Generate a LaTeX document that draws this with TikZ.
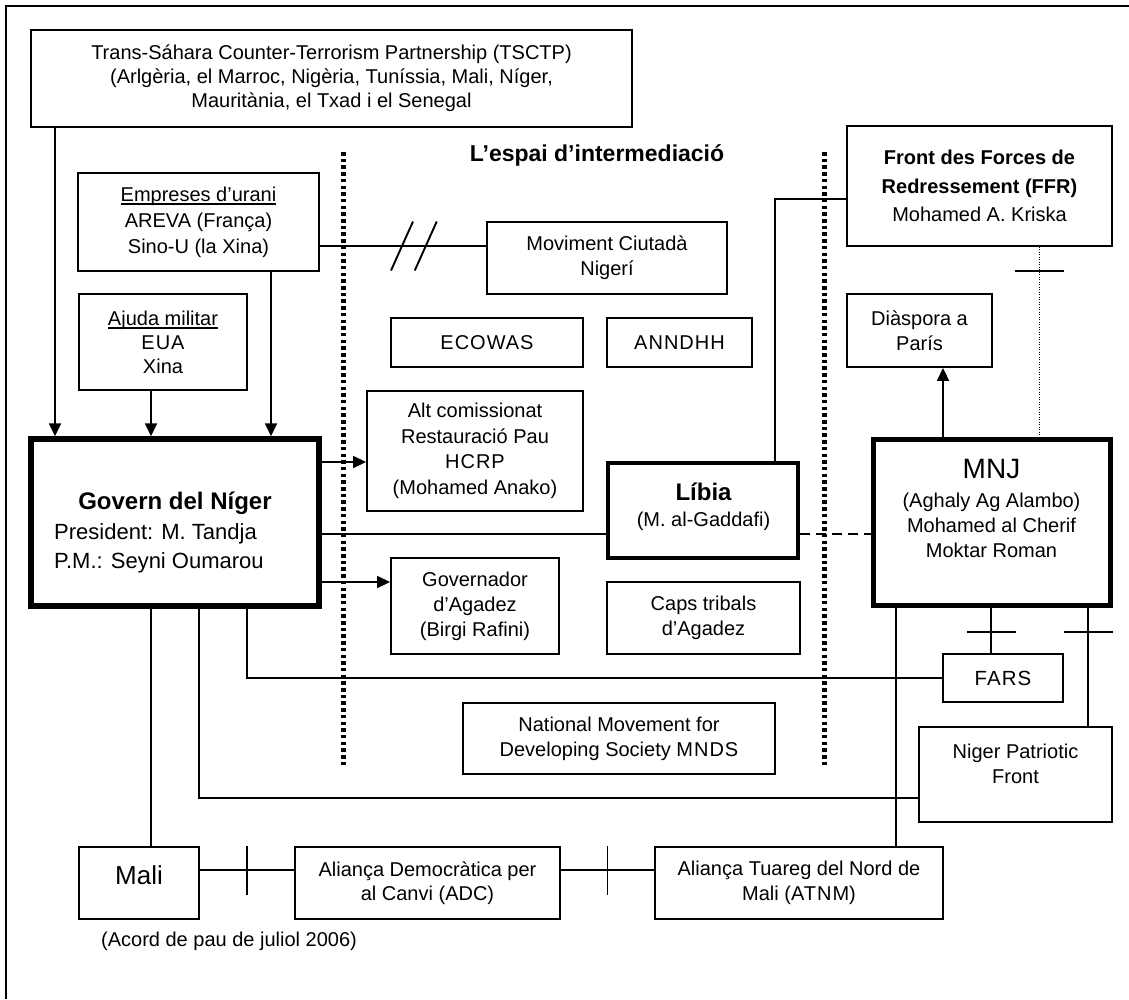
\documentclass[tikz,border=0pt]{standalone}
\usepackage{fontspec}
\setmainfont{Liberation Sans}
\usetikzlibrary{arrows.meta,calc}
% underline set close to the baseline, without changing the line depth
\newcommand{\undl}[1]{\setbox0=\hbox{#1}\rlap{\rule[-3.5pt]{\wd0}{1.3pt}}\box0}
% spaced capitals for acronyms
\newcommand{\spaced}[1]{{\addfontfeature{LetterSpace=5}#1}}

\begin{document}
\begin{tikzpicture}[x=1pt,y=-1pt,
  box/.style={draw, line width=1.9pt, rectangle, inner sep=0pt, align=center,
              font=\fontsize{20}{25}\selectfont},
  heavybox/.style={box, line width=5pt},
  txt/.style={inner sep=0pt, align=center, font=\fontsize{20}{25}\selectfont},
  link/.style={line width=1.9pt},
  arr/.style={link, -{Triangle[width=12pt,length=13pt]}},
  sep/.style={line width=5pt, dash pattern=on 3.5pt off 3.2pt},
  finedots/.style={line width=1pt, dash pattern=on 1pt off 1.5pt},
  dashlink/.style={link, dash pattern=on 10pt off 6pt},
  tick/.style={line width=1.9pt},
]
% page and frame
\fill[white] (0,0) rectangle (1129,999);
\useasboundingbox (0,0) rectangle (1129,999);
\draw[line width=2pt] (6,999) -- (6,6) -- (1129,6);

% helper lines for connector positions
\coordinate (x55) at (55,0);
\coordinate (x151) at (151,0);
\coordinate (x199) at (199,0);
\coordinate (x247) at (247,0);
\coordinate (x271) at (271,0);
\coordinate (x775) at (775,0);
\coordinate (x896) at (896,0);
\coordinate (x943) at (943,0);
\coordinate (x991) at (991,0);
\coordinate (x1039) at (1039,0);
\coordinate (x1088) at (1088,0);
\coordinate (y199) at (0,199);
\coordinate (y246) at (0,246);
\coordinate (y462) at (0,462);
\coordinate (y534) at (0,534);
\coordinate (y582) at (0,582);
\coordinate (y798) at (0,798);
\coordinate (y870) at (0,870);

% boxes
\node[box, minimum width=601pt, minimum height=97pt, font=\fontsize{20}{24}\selectfont] (tsctp) at (331.5,78.5)
  {Trans-Sáhara Counter-Terrorism Partnership (TSCTP)\\(Arlgèria, el Marroc, Nigèria, Tuníssia, Mali, Níger,\\Mauritània, el Txad i el Senegal};
\node[txt, font=\bfseries\fontsize{23}{27}\selectfont] (title) at (597,155) {L’espai d’intermediació};

\node[box, minimum width=241pt, minimum height=98pt, font=\fontsize{20}{26}\selectfont] (emp) at (198.5,222)
  {\undl{Empreses d’urani}\\AREVA (França)\\Sino-U (la Xina)};
\node[box, minimum width=168pt, minimum height=96pt, font=\fontsize{20}{24}\selectfont] (ajuda) at (163,342)
  {\undl{Ajuda militar}\\\spaced{EUA}\\Xina};

\node[heavybox, line width=5.5pt, minimum width=288pt, minimum height=167pt] (govern) at (175,522.5) {};
\node[txt, font=\bfseries\fontsize{24}{28}\selectfont] (govtitle) at (175,503) {Govern del Níger};
\node[txt, anchor=west, align=left, font=\fontsize{22}{29}\selectfont] (govsub) at (54,548.5)
  {President: M. Tandja\\P.M.: Seyni Oumarou};

\node[box, minimum width=240pt, minimum height=72pt] (moviment) at (607,258) {Moviment Ciutadà\\Nigerí};
\node[box, minimum width=192pt, minimum height=49pt] (ecowas) at (487,342.5) {\spaced{ECOWAS}};
\node[box, minimum width=145pt, minimum height=49pt] (anndhh) at (679.5,342.5) {\spaced{ANNDHH}};
\node[box, minimum width=216pt, minimum height=120pt, font=\fontsize{20}{25.5}\selectfont] (alt) at (475,451)
  {Alt comissionat\\Restauració Pau\\\spaced{HCRP}\\(Mohamed Anako)};

\node[heavybox, line width=4.5pt, minimum width=190pt, minimum height=95pt] (libia) at (703,510.5) {};
\node[txt, font=\bfseries\fontsize{24}{28}\selectfont] (libtitle) at (703.5,491.7) {Líbia};
\node[txt] (libsub) at (703.5,521.7) {(M. al-Gaddafi)};

\node[box, minimum width=168pt, minimum height=96pt] (governador) at (475,606)
  {Governador\\d’Agadez\\(Birgi Rafini)};
\node[box, minimum width=193pt, minimum height=72pt] (caps) at (703.5,618) {Caps tribals\\d’Agadez};
\node[box, minimum width=312pt, minimum height=71pt] (mnds) at (619,738.5)
  {National Movement for\\Developing Society \spaced{MNDS}};

\node[box, minimum width=265pt, minimum height=120pt, font=\fontsize{20}{28.5}\selectfont] (ffr) at (979.5,186)
  {\textbf{Front des Forces de}\\\textbf{Redressement (FFR)}\\Mohamed A. Kriska};
\node[box, minimum width=145pt, minimum height=73pt] (diaspora) at (919.5,330.5) {Diàspora a\\París};

\node[heavybox, minimum width=237pt, minimum height=166pt] (mnj) at (991.5,522) {};
\node[txt, font=\fontsize{28}{32}\selectfont] (mnjtitle) at (991.5,469) {MNJ};
\node[txt] (mnjsub) at (991.5,525.8) {(Aghaly Ag Alambo)\\Mohamed al Cherif\\Moktar Roman};

\node[box, minimum width=120pt, minimum height=48pt, font=\fontsize{20.5}{25}\selectfont] (fars) at (1003,678) {\spaced{FARS}};
\node[box, minimum width=193pt, minimum height=95pt] (npf) at (1015.5,774.5) {};
\node[txt] (npftext) at (1015.5,764) {Niger Patriotic\\Front};

\node[box, minimum width=120pt, minimum height=72pt] (mali) at (139,883) {};
\node[txt, font=\fontsize{26}{30}\selectfont] (malitext) at (139,875) {Mali};
\node[box, minimum width=265pt, minimum height=72pt, font=\fontsize{20}{24.5}\selectfont] (adc) at (427.5,883)
  {Aliança Democràtica per\\al Canvi (ADC)};
\node[box, minimum width=288pt, minimum height=72pt, font=\fontsize{20}{24.5}\selectfont] (atnm) at (799,883)
  {Aliança Tuareg del Nord de\\Mali (\spaced{ATNM})};
\node[txt] (acord) at (229,941.7) {(Acord de pau de juliol 2006)};

% dotted borders of the intermediation space
\draw[sep] (343,152) -- (343,767);
\draw[sep] (824,152) -- (824,767);

% connectors
\draw[arr] (tsctp.south -| x55) -- (govern.north -| x55);
\draw[arr] (emp.south -| x271) -- (govern.north -| x271);
\draw[arr] (ajuda.south -| x151) -- (govern.north -| x151);

\draw[link] (emp.east |- y246) -- (moviment.west |- y246)
  coordinate[pos=0.494] (s1) coordinate[pos=0.637] (s2);
\draw[link] ($(s1)+(-11,24.5)$) -- ($(s1)+(11,-24.5)$);
\draw[link] ($(s2)+(-11,24.5)$) -- ($(s2)+(11,-24.5)$);

\draw[arr] (govern.east |- y462) -- (alt.west |- y462);
\draw[link] (govern.east |- y534) -- (libia.west |- y534);
\draw[arr] (govern.east |- y582) -- (governador.west |- y582);
\draw[link] (govern.south -| x151) -- (mali.north -| x151);
\draw[link] (govern.south -| x199) |- (npf.west |- y798);
\draw[link] (govern.south -| x247) |- (fars.west);

\draw[link] (libia.north -| x775) |- (ffr.west |- y199);
\draw[dashlink] (libia.east |- y534) -- (mnj.west |- y534);
\draw[arr] (mnj.north -| x943) -- (diaspora.south -| x943);

\draw[finedots] (ffr.south -| x1039) -- (mnj.north -| x1039) coordinate[pos=0.125] (t1);
\draw[tick] ($(t1)+(-24.5,0)$) -- ($(t1)+(24.5,0)$);
\draw[link] (mnj.south -| x991) -- (fars.north -| x991) coordinate[pos=0.53] (t2);
\draw[tick] ($(t2)+(-24.5,0)$) -- ($(t2)+(24.5,0)$);
\draw[link] (mnj.south -| x1088) -- (npf.north -| x1088) coordinate[pos=0.205] (t3);
\draw[tick] ($(t3)+(-24.5,0)$) -- ($(t3)+(24.5,0)$);
\draw[link] (mnj.south -| x896) -- (atnm.north -| x896);

\draw[link] (mali.east |- y870) -- (adc.west |- y870) coordinate[pos=0.5] (t4);
\draw[tick] ($(t4)+(0,-24)$) -- ($(t4)+(0,25)$);
\draw[link] (adc.east |- y870) -- (atnm.west |- y870) coordinate[pos=0.5] (t5);
\draw[tick] ($(t5)+(0,-24)$) -- ($(t5)+(0,25)$);
\end{tikzpicture}
\end{document}
